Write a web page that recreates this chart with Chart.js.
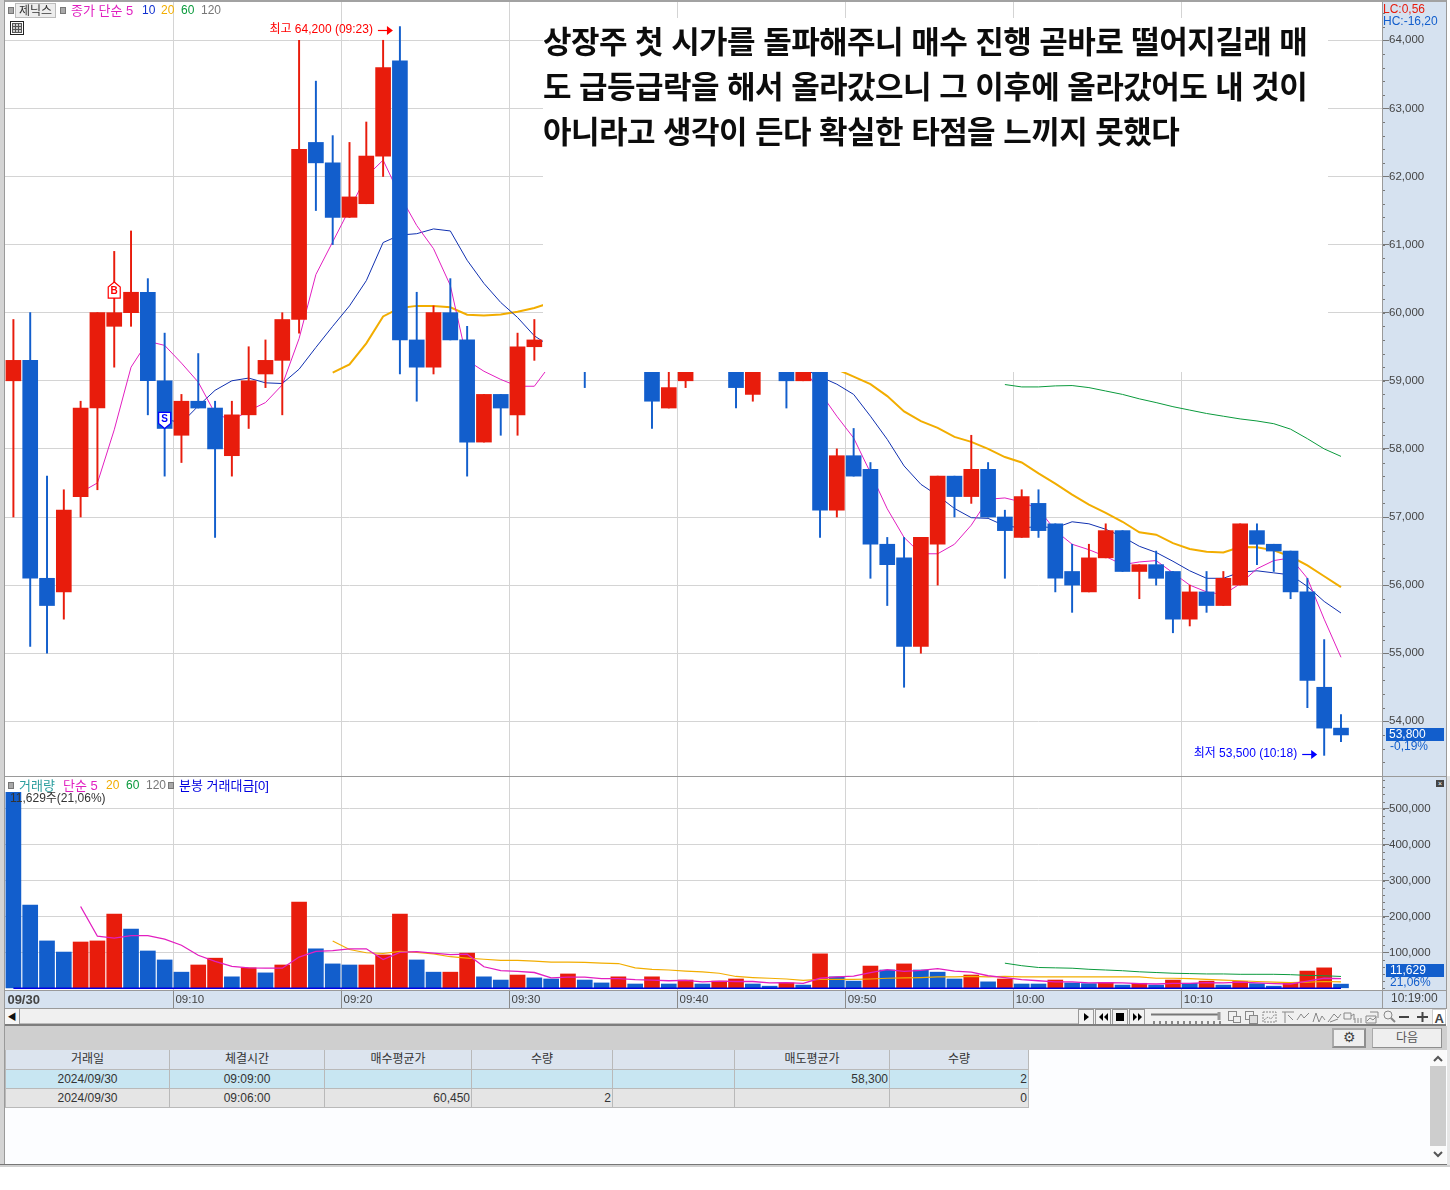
<!DOCTYPE html>
<html lang="ko">
<head>
<meta charset="utf-8">
<title>제닉스 분봉 차트</title>
<script src="https://cdn.jsdelivr.net/npm/chart.js@4"></script>
<style>
*{box-sizing:border-box}
html,body{margin:0;padding:0;background:#fff;width:1450px;height:1190px;overflow:hidden}
body{font-family:"Liberation Sans","Noto Sans CJK KR",sans-serif;color:#444}
.a{position:absolute}
.t{position:absolute;font-size:12px;line-height:13px;white-space:nowrap}
.k{font-size:13px}
canvas{position:absolute;display:block}
table{border-collapse:collapse;table-layout:fixed;position:absolute;left:5px;top:1050px;width:1023px;font-size:12px;color:#333}
td,th{border:1px solid #b9b9b9;border-top:0;font-weight:400;padding:0 1px;height:19px;line-height:17px;overflow:hidden}
th{background:#dce4ee;text-align:center;line-height:19px}
.c{text-align:center}.r{text-align:right}
.btn{position:absolute;background:#efefef;border:2px solid #8f8f8f;border-top-color:#aaa;border-left-color:#aaa;text-align:center}
</style>
</head>
<body>
<!-- window frame and axis bands -->
<div class="a" style="left:0;top:0;width:4px;height:1166px;background:#d4d4d4"></div>
<div class="a" style="left:4px;top:0;width:1px;height:1166px;background:#9a9a9a"></div>
<div class="a" style="left:5px;top:0;width:1442px;height:2px;background:#a2a2a2"></div>
<div class="a" style="left:1382px;top:2px;width:64px;height:1006px;background:#d6e2f0"></div>
<div class="a" style="left:1446px;top:0;width:1px;height:1009px;background:#9a9a9a"></div>
<div class="a" style="left:1447px;top:776px;width:3px;height:390px;background:#e6e6e6"></div>
<div class="a" style="left:5px;top:990px;width:1377px;height:18px;background:#d6e2f0"></div>

<canvas id="priceChart" width="1441" height="774" style="left:5px;top:2px"></canvas>
<canvas id="volChart" width="1441" height="231" style="left:5px;top:777px"></canvas>

<div class="a" style="left:5px;top:776px;width:1441px;height:1px;background:#9a9a9a"></div>
<div class="a" style="left:5px;top:990px;width:1441px;height:1px;background:#9a9a9a"></div>
<div class="a" style="left:5px;top:1008px;width:1441px;height:1px;background:#9a9a9a"></div>
<div class="a" style="left:1382px;top:2px;width:1px;height:1006px;background:#9a9a9a"></div>

<!-- note box -->
<div class="a" style="left:543px;top:18px;width:785px;height:354px;background:#fff"></div>
<div class="a" style="left:543px;top:17px;font-family:'Noto Sans CJK KR';font-weight:700;font-size:31px;line-height:45px;color:#0c0c0c;white-space:nowrap;letter-spacing:-0.55px">상장주 첫 시가를 돌파해주니 매수 진행 곧바로 떨어지길래 매<br>도 급등급락을 해서 올라갔으니 그 이후에 올라갔어도 내 것이<br>아니라고 생각이 든다 확실한 타점을 느끼지 못했다</div>

<!-- price legend -->
<div class="a" style="left:8px;top:7px;width:6px;height:7px;background:#a8a8a8;border:1px solid #777"></div>
<div class="t" style="left:15px;top:3px;width:41px;height:15px;background:#ededed;border:1px solid #bbb;text-align:center;color:#333;line-height:14px">제닉스</div>
<div class="a" style="left:60px;top:7px;width:6px;height:7px;background:#a8a8a8;border:1px solid #777"></div>
<div class="t k" style="left:71px;top:4px;color:#e020c0">종가 단순 5</div>
<div class="t" style="left:142px;top:4px;color:#1030d0">10</div>
<div class="t" style="left:161px;top:4px;color:#f2ad00">20</div>
<div class="t" style="left:181px;top:4px;color:#0a9a3c">60</div>
<div class="t" style="left:201px;top:4px;color:#777">120</div>
<svg class="a" style="left:10px;top:21px" width="14" height="14"><rect x=".5" y=".5" width="13" height="13" fill="#fff" stroke="#222"/><rect x="2.5" y="2.5" width="9" height="9" fill="#ccc" stroke="#555"/><path d="M2 5.5h10M2 8.5h10M5.5 3v8M8.5 3v8" stroke="#555"/></svg>
<div class="t" style="left:1383px;top:3px;color:#e81c0c">LC:0,56</div>
<div class="t" style="left:1383px;top:15px;color:#125ecc">HC:-16,20</div>
<!-- last price tags -->
<div class="t" style="left:1386px;top:728px;width:58px;height:13px;background:#125ecc;color:#fff;padding-left:3px">53,800</div>
<div class="t" style="left:1390px;top:740px;color:#125ecc">-0,19%</div>
<!-- volume legend -->
<div class="a" style="left:8px;top:782px;width:6px;height:7px;background:#a8a8a8;border:1px solid #777"></div>
<div class="t k" style="left:19px;top:779px;color:#2a9d9d">거래량</div>
<div class="t k" style="left:63px;top:779px;color:#e020c0">단순 5</div>
<div class="t" style="left:106px;top:779px;color:#f2ad00">20</div>
<div class="t" style="left:126px;top:779px;color:#0a9a3c">60</div>
<div class="t" style="left:146px;top:779px;color:#777">120</div>
<div class="a" style="left:168px;top:782px;width:6px;height:7px;background:#a8a8a8;border:1px solid #777"></div>
<div class="t k" style="left:179px;top:779px;color:#0000e0">분봉 거래대금[0]</div>
<div class="t" style="left:10px;top:792px;color:#333">11,629주(21,06%)</div>
<div class="t" style="left:1436px;top:780px;width:8px;height:7px;background:#444;color:#fff;font-size:7px;line-height:7px;text-align:center">×</div>
<div class="t" style="left:1386px;top:964px;width:58px;height:13px;background:#125ecc;color:#fff;padding-left:4px">11,629</div>
<div class="t" style="left:1390px;top:976px;color:#125ecc">21,06%</div>
<div class="t" style="left:1391px;top:992px;font-size:12px;color:#444">10:19:00</div>

<!-- scroll row -->
<div class="a" style="left:5px;top:1009px;width:1441px;height:16px;background:#f0f0f0"></div>
<div class="a" style="left:5px;top:1009px;width:15px;height:16px;background:#f6f6f6;border-right:1px solid #999;font-size:9px;line-height:16px;text-align:center;color:#111">◀</div>
<div class="a" style="left:20px;top:1023px;width:1058px;height:1px;background:#bbb"></div>
<svg class="a" style="left:1076px;top:1009px" width="372" height="16">
 <g fill="#f2f2f2" stroke="#999"><rect x="2.5" y=".5" width="15" height="15"/><rect x="19.5" y=".5" width="15" height="15"/><rect x="36.5" y=".5" width="15" height="15"/><rect x="53.5" y=".5" width="15" height="15"/></g>
 <path d="M8 4l5 4-5 4zM32 4l-4 4 4 4zM27 4l-4 4 4 4zM40 4h8v8h-8zM57 4l4 4-4 4zM62 4l4 4-4 4z" fill="#000"/>
 <path d="M75 5.5h68" stroke="#777" stroke-width="2"/><path d="M143 3v8" stroke="#999" stroke-width="3"/>
 <path d="M78 12v3M84 12v3M90 12v3M96 12v3M102 12v3M108 12v3M114 12v3M120 12v3M126 12v3M132 12v3M138 12v3M144 12v3" stroke="#222"/>
 <g fill="none" stroke="#888">
  <rect x="152.5" y="2.5" width="8" height="9"/><rect x="157.5" y="7.5" width="7" height="6" fill="#eee"/>
  <rect x="169.5" y="2.5" width="8" height="8"/><rect x="173.5" y="6.5" width="8" height="8" fill="#ddd"/>
  <path d="M187 3h13v10h-13zM188 11l4-3 3 2 4-5" stroke-dasharray="2 1"/>
  <path d="M206 3h12M209 3v11M212 6l5 5M221 11l4-6 3 4 5-5"/>
  <path d="M237 13l3-9 3 9 3-6 3 4M252 13l6-8 4 4 3-4M254 13l8-3"/>
  <path d="M268 4h7v6h-7zM275 7l3-2v6M279 9v5M282 9v5M285 9v5"/>
  <path d="M290 7h10v7h-10zM294 3h8v6M291 12l3-3 3 2 3-3"/>
  <circle cx="312" cy="6" r="4"/><path d="M315 9l4 4" stroke-width="2"/>
 </g>
 <path d="M323 8h10M341 8h11M346.5 3v10" stroke="#444" stroke-width="2" fill="none"/>
 <rect x="356.5" y=".5" width="13" height="15" fill="#fff" stroke="#ccc"/>
 <text x="358.5" y="14" font-size="13" font-weight="700" font-family="Liberation Sans" fill="#444">A</text>
</svg>
<div class="a" style="left:5px;top:1024px;width:1441px;height:2px;background:#7d7d7d"></div>
<!-- grey band and buttons -->
<div class="a" style="left:5px;top:1026px;width:1442px;height:24px;background:#cfcfcf"></div>
<div class="btn" style="left:1332px;top:1028px;width:34px;height:20px;font-size:14px;line-height:15px;color:#444">⚙</div>
<div class="btn" style="left:1372px;top:1028px;width:70px;height:20px;border-width:1px;font-size:12px;line-height:18px;color:#555">다음</div>
<!-- table area -->
<div class="a" style="left:5px;top:1050px;width:1442px;height:114px;background:#fcfdff"></div>
<table>
 <colgroup><col style="width:164px"><col style="width:155px"><col style="width:147px"><col style="width:141px"><col style="width:122px"><col style="width:155px"><col style="width:139px"></colgroup>
 <tbody id="tradeBody"></tbody>
</table>
<div class="a" style="left:1430px;top:1050px;width:16px;height:114px;background:#fafafa"></div>
<div class="a" style="left:1430px;top:1066px;width:16px;height:80px;background:#cdcdcd"></div>
<svg class="a" style="left:1430px;top:1050px" width="16" height="114"><path d="M4 11l4-4 4 4M4 102l4 4 4-4" fill="none" stroke="#555" stroke-width="2"/></svg>
<div class="a" style="left:0;top:1164px;width:1447px;height:1px;background:#777"></div>
<div class="a" style="left:0;top:1165px;width:1450px;height:2px;background:#d0d0d0"></div>

<script>
// ---------- categories (minute bars, 09:00 .. 10:19, then two empty slots) ----------
const categories = ['09:00','09:01','09:02','09:03','09:04','09:05','09:06','09:07','09:08','09:09',
'09:10','09:11','09:12','09:13','09:14','09:15','09:16','09:17','09:18','09:19',
'09:20','09:21','09:22','09:23','09:24','09:25','09:26','09:27','09:28','09:29',
'09:30','09:31','09:32','09:33','09:34','09:35','09:36','09:37','09:38','09:39',
'09:40','09:41','09:42','09:43','09:44','09:45','09:46','09:47','09:48','09:49',
'09:50','09:51','09:52','09:53','09:54','09:55','09:56','09:57','09:58','09:59',
'10:00','10:01','10:02','10:03','10:04','10:05','10:06','10:07','10:08','10:09',
'10:10','10:11','10:12','10:13','10:14','10:15','10:16','10:17','10:18','10:19','',''];
const firstLabel = '09/30';

// ---------- candles ----------
const opens = [59000,59300,56100,55900,57300,58600,59800,60000,60300,59000,
58200,58700,58600,57900,58500,59100,59300,59900,62500,62200,
61400,61600,62300,63700,59600,59200,60000,59600,58100,58800,
58500,59500,59500,59700,59900,59500,59300,59500,59400,58600,
59000,59200,59300,59500,58800,59400,59300,59000,59200,57100,
57900,57700,56600,56400,55100,56600,57600,57300,57700,57000,
56700,57200,56900,56200,55900,56400,56800,56200,56300,56200,
55500,55900,55700,56000,56800,56600,56500,55900,54500,53900];
const closes = [59300,56100,55700,57100,58600,60000,60000,60300,59000,58300,
58700,58600,58000,58500,59000,59300,59900,62400,62200,61400,
61700,62300,63600,59600,59200,60000,59600,58100,58800,58600,
59500,59600,59700,59900,59500,59300,59500,59400,58700,58900,
59200,59300,59500,58900,59300,59300,59000,59200,57100,57900,
57600,56600,56300,55100,56700,57600,57300,57700,57000,56800,
57300,56800,56100,56000,56400,56800,56200,56300,56100,55500,
55900,55700,56100,56900,56600,56500,55900,54600,53900,53800];
const highs = [59900,60000,57600,57400,58700,60000,60900,61200,60500,59700,
58800,59400,58700,58700,59500,59600,60000,64000,63400,62600,
62500,62800,64000,64200,60300,60100,60500,59800,58800,58800,
59700,59900,59900,60000,60000,59500,59600,59500,59500,59200,
59300,59300,59500,59500,59300,59400,59400,59200,59300,58000,
58300,57800,56700,56700,56700,57600,57600,58200,57800,57100,
57400,57400,56900,56600,56600,56900,56800,56300,56500,56200,
56000,56200,56200,56900,56900,56600,56500,56100,55200,54100];
const lows = [57000,55100,55000,55500,57000,57400,59200,59800,58500,57600,
57800,58600,56700,57600,58300,58900,58500,59700,61500,61000,
61400,61600,62000,59100,58700,59100,59600,57600,58100,58200,
58200,59300,59300,59600,58900,59200,59300,59300,58300,58600,
58900,59200,59300,58600,58700,59300,58600,59000,56700,57000,
57600,56100,55700,54500,55000,56000,57000,57200,57000,56100,
56700,56700,55900,55600,55900,56400,56200,55800,56000,55300,
55400,55600,55700,56000,56300,56200,55800,54200,53500,53700];

// ---------- price moving averages ----------
const priceMa5 = [null,null,null,null,57360,57500,58280,59200,59580,59520,
59260,58980,58520,58420,58560,58680,58940,59620,60560,61040,
61520,62000,62240,61720,61280,60940,60400,59300,59140,59020,
58920,58920,59250,59400,59500,59500,59500,59500,59300,59300,
59200,59200,59300,59250,59250,59300,59250,59200,58830,58480,
58160,57650,57120,56700,56460,56460,56600,56880,57260,57280,
57220,57120,56800,56600,56520,56420,56300,56340,56360,56180,
56000,55900,55860,56020,56240,56360,56400,56100,55500,54940];
const priceMa10 = [null,null,null,null,null,null,null,null,null,58440,
58380,58630,58860,59000,59040,58970,58960,59170,59490,59800,
60100,60470,61030,61140,61160,61230,61200,60770,60430,60150,
59930,59660,59500,59450,59400,59350,59300,59280,59260,59240,
59220,59200,59200,59200,59200,59200,59200,59180,59060,58950,
58800,58480,58140,57750,57480,57315,57125,56990,56980,56870,
56840,56860,56840,56930,56900,56820,56710,56570,56480,56350,
56210,56100,56100,56190,56210,56180,56150,55980,55760,55590];
const priceMa20 = [null,null,null,null,null,null,null,null,null,null,
null,null,null,null,null,null,null,null,null,59120,
59240,59550,59945,60070,60100,60100,60080,59970,59960,59975,
60015,60070,60150,60150,60130,60100,60080,60050,60000,59950,
59900,59850,59800,59750,59650,59550,59450,59350,59260,59170,
59060,58950,58775,58550,58407,58309,58176,58103,58000,57880,
57800,57640,57490,57328,57181,57060,56930,56775,56740,56617,
56530,56490,56480,56560,56555,56510,56420,56290,56130,55970];
const priceMa60 = [null,null,null,null,null,null,null,null,null,null,
null,null,null,null,null,null,null,null,null,null,
null,null,null,null,null,null,null,null,null,null,
null,null,null,null,null,null,null,null,null,null,
null,null,null,null,null,null,null,null,null,null,
null,null,null,null,null,null,null,null,null,58945,
58910,58910,58925,58930,58900,58850,58800,58735,58680,58620,
58570,58520,58480,58440,58410,58370,58290,58150,58000,57890];

// ---------- volume ----------
const volumes = [546000,232000,132000,101000,129000,132000,207000,165000,104000,79000,
45000,65000,84000,32000,57000,43000,65000,240000,110000,68000,
65000,65000,93000,207000,79000,45000,45000,98000,32000,23000,
37000,29000,26000,40000,23000,15000,32000,12000,32000,12000,
23000,12000,20000,26000,12000,6000,15000,9000,96000,32000,
20000,62000,51000,68000,51000,45000,26000,37000,18000,26000,
12000,12000,23000,15000,13000,16000,9000,14000,9000,23000,
14000,20000,9000,19000,13000,6000,14000,48000,57000,11629];
const volumeUp = [0,0,0,0,1,1,1,0,0,0,
0,1,1,0,1,0,1,1,0,0,
0,1,1,1,0,0,1,1,0,0,
1,0,0,1,0,0,1,0,1,0,
1,0,1,1,0,0,1,0,1,0,
0,1,0,1,0,0,0,1,0,1,
0,0,1,0,0,1,0,1,0,1,
0,1,0,1,0,0,1,1,1,0];
const volMa5 = [null,null,null,null,228000,145000,140000,147000,147000,137000,
120000,92000,75000,61000,57000,56000,56000,87000,103000,105000,
110000,110000,80000,100000,102000,98000,94000,95000,60000,49000,
47000,44000,29000,31000,31000,27000,27000,24000,23000,21000,
22000,18000,20000,19000,19000,15000,16000,14000,28000,32000,
34000,44000,52000,47000,50000,55000,48000,45000,35000,30000,
24000,21000,18000,18000,15000,16000,15000,13000,12000,14000,
14000,16000,15000,17000,15000,13000,12000,20000,28000,27000];
const volMa20 = [null,null,null,null,null,null,null,null,null,null,
null,null,null,null,null,null,null,null,null,132000,
108000,99000,97000,103000,100000,96000,88000,84000,81000,78000,
78000,76000,73000,73000,72000,70000,69000,57000,53000,51000,
48000,46000,42000,33000,30000,28000,26000,22000,25000,25000,
25000,26000,28000,29000,30000,32000,32000,33000,32000,33000,
32000,32000,32000,32000,32000,32000,32000,32000,28000,28000,
27000,25000,23000,21000,19000,17000,16000,17000,19000,18000];
const volMa60 = [null,null,null,null,null,null,null,null,null,null,
null,null,null,null,null,null,null,null,null,null,
null,null,null,null,null,null,null,null,null,null,
null,null,null,null,null,null,null,null,null,null,
null,null,null,null,null,null,null,null,null,null,
null,null,null,null,null,null,null,null,null,70000,
63000,58000,57000,56000,53000,51000,49000,46000,44000,42000,
41000,40000,40000,39000,39000,39000,38000,36000,35000,33000];
const turnover = [0,0,0,0,0,0,0,0,0,0,0,0,0,0,0,0,0,0,0,0,
0,0,0,0,0,0,0,0,0,0,0,0,0,0,0,0,0,0,0,0,
0,0,0,0,0,0,0,0,0,0,0,0,0,0,0,0,0,0,0,0,
0,0,0,0,0,0,0,0,0,0,0,0,0,0,0,0,0,0,0,0];

// ---------- annotations / trades ----------
const highNote = '최고 64,200 (09:23)';
const lowNote = '최저 53,500 (10:18)';
const highPoint = {index:23, price:64200};
const lowPoint = {index:78, price:53500};
const buyMark = {index:6, price:60450};
const sellMark = {index:9, price:58300};
const tradeHeaders = ['거래일','체결시간','매수평균가','수량','','매도평균가','수량'];
const tradeRows = [
 ['2024/09/30','09:09:00','','','','58,300','2'],
 ['2024/09/30','09:06:00','60,450','2','','','0']
];

// ---------- trade table ----------
(function(){
 const tb=document.getElementById('tradeBody');
 let h='<tr>'+tradeHeaders.map(x=>'<th>'+x+'</th>').join('')+'</tr>';
 tradeRows.forEach((r,ri)=>{
  const bg=ri===0?'#c8e6f2':'#e5e5e5';
  h+='<tr style="background:'+bg+'">'+r.map((x,i)=>'<td class="'+(i<2?'c':'r')+'">'+x+'</td>').join('')+'</tr>';
 });
 tb.innerHTML=h;
})();

// ---------- common ----------
const RED='#e81c0c', BLUE='#125ecc', GRID='#d4d4d4', TICK='#777';
const FONT='"Liberation Sans","Noto Sans CJK KR",sans-serif';
Chart.defaults.font.family=FONT;
const candleColors = closes.map((c,i)=> c>=opens[i] ? RED : BLUE);
const isTenth = i => i>0 && i<80 && i%10===0;

function lineDs(data,color,width,yAxisID,order){
 return {type:'line',data,borderColor:color,borderWidth:width,pointRadius:0,tension:0,spanGaps:false,order,yAxisID};
}
function xScale(showLabels){
 return {
  type:'category',offset:true,
  afterFit(s){ s.height = showLabels ? 18 : 0; s.paddingLeft=0; s.paddingRight=0; },
  border:{display:false},
  grid:{offset:true,drawTicks:false,lineWidth:1,color:c=>isTenth(c.index)?GRID:'transparent'},
  ticks:{display:showLabels,autoSkip:false,maxRotation:0,minRotation:0,padding:3,align:'start',labelOffset:-6,
   color:'#444',
   font:c=>({size:c.index===0?13:11.5,weight:c.index===0?'bold':'normal'}),
   callback:(v,i)=> i===0 ? firstLabel : (isTenth(i) ? categories[i] : '')}
 };
}
function yScale(min,max,step,labelTest){
 return {
  position:'right',min,max,
  afterBuildTicks(s){
   const t=[];
   for(let v=Math.ceil(min/step)*step;v<=max;v+=step) t.push({value:v});
   s.ticks=t;
  },
  afterFit(s){ s.width=63; s.paddingTop=0; s.paddingBottom=0; },
  border:{display:false},
  grid:{drawTicks:true,tickLength:6,
   color:c=>labelTest(c.tick.value)?GRID:'transparent',
   tickColor:c=>c.tick&&labelTest(c.tick.value)?TICK:'transparent'},
  ticks:{autoSkip:false,padding:0,color:'#444',font:{size:11.5},
   callback:v=> labelTest(v) ? Number(v).toLocaleString('en-US') : ''}
 };
}
const minorTicks = {
 id:'minorTicks',
 afterDraw(chart){
  const s=chart.scales.y, c=chart.ctx;
  c.save(); c.strokeStyle=TICK; c.lineWidth=1;
  s.ticks.forEach(t=>{
   const y=Math.round(s.getPixelForValue(t.value))+.5;
   c.beginPath(); c.moveTo(s.left-1,y); c.lineTo(s.left+2,y); c.stroke();
  });
  c.restore();
 }
};
const bandTicks = {
 id:'bandTicks',
 afterDraw(chart){
  const x=chart.scales.x, c=chart.ctx;
  const slot=x.getPixelForValue(1)-x.getPixelForValue(0);
  c.save(); c.strokeStyle='#8a8a8a'; c.lineWidth=1;
  categories.forEach((_,i)=>{
   if(!isTenth(i)) return;
   const p=Math.round(x.getPixelForValue(i)-slot/2)+.5;
   c.beginPath(); c.moveTo(p,chart.chartArea.bottom); c.lineTo(p,chart.height); c.stroke();
  });
  c.restore();
 }
};
function arrowNote(c,text,tipX,y,color){
 c.save();
 c.strokeStyle=color; c.fillStyle=color; c.lineWidth=1.2;
 c.beginPath(); c.moveTo(tipX-15,y+.5); c.lineTo(tipX-5,y+.5); c.stroke();
 c.beginPath(); c.moveTo(tipX,y+.5); c.lineTo(tipX-6,y-4); c.lineTo(tipX-6,y+5); c.closePath(); c.fill();
 c.font='12px '+FONT; c.textAlign='right'; c.textBaseline='middle';
 c.fillText(text,tipX-20,y);
 c.restore();
}
function tradeBadge(c,x,tipY,letter,color,up){
 c.save();
 const w=6, h=16, d=up?1:-1;
 c.fillStyle='#fff'; c.strokeStyle=color; c.lineWidth=1.2;
 c.beginPath();
 c.moveTo(x,tipY);
 c.lineTo(x+w,tipY+d*5); c.lineTo(x+w,tipY+d*h); c.lineTo(x-w,tipY+d*h); c.lineTo(x-w,tipY+d*5);
 c.closePath(); c.fill(); c.stroke();
 c.fillStyle=color; c.font='bold 10px '+FONT; c.textAlign='center'; c.textBaseline='middle';
 c.fillText(letter,x,tipY+d*(up?9.5:9));
 c.restore();
}
const priceNotes = {
 id:'priceNotes',
 afterDatasetsDraw(chart){
  const x=chart.scales.x,y=chart.scales.y,c=chart.ctx;
  arrowNote(c,highNote,x.getPixelForValue(highPoint.index)-7,Math.round(y.getPixelForValue(highPoint.price))+3,'#ff0000');
  arrowNote(c,lowNote,x.getPixelForValue(lowPoint.index)-7,Math.round(y.getPixelForValue(lowPoint.price))-1,'#0000ff');
  tradeBadge(c,x.getPixelForValue(buyMark.index),y.getPixelForValue(buyMark.price),'B','#ff0000',true);
  tradeBadge(c,x.getPixelForValue(sellMark.index),y.getPixelForValue(sellMark.price),'S','#0000ff',false);
 }
};
const baseOpts = {
 responsive:false,maintainAspectRatio:false,animation:false,devicePixelRatio:1,
 layout:{padding:0},events:[],
 plugins:{legend:{display:false},tooltip:{enabled:false}}
};

// ---------- price pane ----------
new Chart(document.getElementById('priceChart'),{
 type:'bar',
 data:{labels:categories,datasets:[
  {label:'body',data:opens.map((o,i)=>[o,closes[i]]),backgroundColor:candleColors,barThickness:15,grouped:false,borderWidth:0,order:0},
  {label:'wick',data:lows.map((l,i)=>[l,highs[i]]),backgroundColor:candleColors,barThickness:1.3,grouped:false,borderWidth:0,order:1},
  lineDs(priceMa5,'#e21fc0',1,'y',2),
  lineDs(priceMa10,'#1030b0',1,'y',3),
  lineDs(priceMa20,'#f2ad00',2,'y',4),
  lineDs(priceMa60,'#0a9a3c',1,'y',5)
 ]},
 options:{...baseOpts,
  scales:{x:xScale(false),y:yScale(53197,64562,200,v=>v%1000===0)}
 },
 plugins:[minorTicks,priceNotes]
});

// ---------- volume pane ----------
new Chart(document.getElementById('volChart'),{
 type:'bar',
 data:{labels:categories,datasets:[
  {label:'volume',data:volumes,backgroundColor:volumeUp.map(u=>u?RED:BLUE),barThickness:15,grouped:false,borderWidth:0,order:5},
  lineDs(volMa60,'#0a9a3c',1,'y',3),
  lineDs(volMa20,'#f2ad00',1.2,'y',2),
  lineDs(volMa5,'#e21fc0',1.3,'y',1),
  lineDs(turnover,'#0000e0',1.6,'y',0)
 ]},
 options:{...baseOpts,
  scales:{x:xScale(true),y:yScale(-4700,588600,20000,v=>v>0&&v%100000===0)}
 },
 plugins:[minorTicks,bandTicks]
});
</script>
</body>
</html>
